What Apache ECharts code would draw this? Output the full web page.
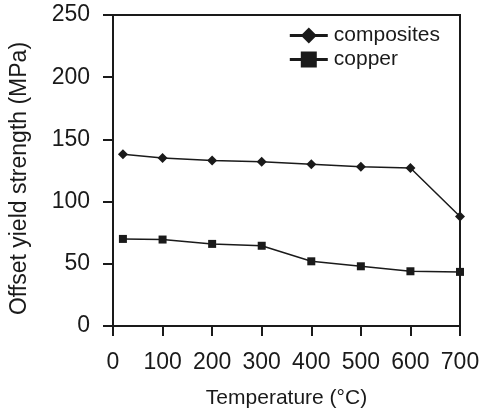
<!DOCTYPE html>
<html>
<head>
<meta charset="utf-8">
<script src="https://cdn.jsdelivr.net/npm/echarts@6/dist/echarts.min.js"></script>
<style>
  html, body { margin: 0; padding: 0; background: #fff; }
  #chart { width: 494px; height: 416px; }
</style>
</head>
<body>
<div id="chart"></div>
<script>
const temps = [20, 100, 200, 300, 400, 500, 600, 700];
const composites = [138, 135, 133, 132, 130, 128, 127, 88];
const copper = [70, 69.5, 66, 64.5, 52, 48, 44, 43.5];

const ink = '#1a1a1a';
const font = 'Liberation Sans, Arial, sans-serif';

function pairs(xs, ys) {
  return xs.map((x, i) => [x, ys[i]]);
}

const chart = echarts.init(document.getElementById('chart'));
chart.setOption({
  animation: false,
  grid: {
    left: 113, right: 34, top: 15, bottom: 90,
    show: true, borderColor: ink, borderWidth: 2
  },
  legend: {
    top: 20, right: 49,
    orient: 'vertical',
    itemWidth: 38, itemHeight: 20, itemGap: 3,
    lineStyle: { width: 3 },
    textStyle: { fontFamily: font, fontSize: 21, color: ink, padding: [0, 0, 0, 1] },
    data: ['composites', 'copper']
  },
  xAxis: {
    type: 'value', min: 0, max: 700, interval: 100,
    name: 'Temperature (°C)', nameLocation: 'middle', nameGap: 62,
    nameTextStyle: { fontFamily: font, fontSize: 21, color: ink },
    axisLine: { lineStyle: { color: ink, width: 2 } },
    axisTick: { length: 10, lineStyle: { color: ink, width: 2 } },
    axisLabel: { fontFamily: font, fontSize: 23, color: ink, margin: 25 },
    splitLine: { show: false }
  },
  yAxis: {
    type: 'value', min: 0, max: 250, interval: 50,
    name: 'Offset yield strength (MPa)', nameLocation: 'middle', nameGap: 82,
    nameTextStyle: { fontFamily: font, fontSize: 23, color: ink, padding: [0, 16, 0, 0] },
    axisLine: { lineStyle: { color: ink, width: 2 } },
    axisTick: { length: 10, lineStyle: { color: ink, width: 2 } },
    axisLabel: { fontFamily: font, fontSize: 23, color: ink, margin: 23 },
    splitLine: { show: false }
  },
  series: [
    {
      name: 'composites', type: 'line',
      data: pairs(temps, composites),
      symbol: 'diamond', symbolSize: 10,
      lineStyle: { color: ink, width: 1.5 },
      itemStyle: { color: ink }
    },
    {
      name: 'copper', type: 'line',
      data: pairs(temps, copper),
      symbol: 'rect', symbolSize: 8,
      lineStyle: { color: ink, width: 1.5 },
      itemStyle: { color: ink }
    }
  ]
});
</script>
</body>
</html>
